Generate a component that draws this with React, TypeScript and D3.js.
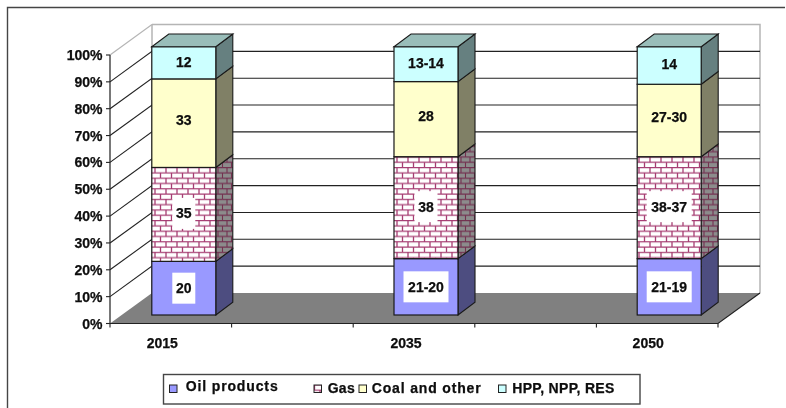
import React from "react";
import * as d3 from "d3";

const categories = ["2015", "", "2035", " ", "2050"];
const seriesNames = ["Oil products", "Gas", "Coal and other", "HPP, NPP, RES"];
const oil = [20, 21, 21];
const gas = [35, 38, 38];
const coal = [33, 28, 27];
const hpp = [12, 13, 14];
const labelsOil = ["20", "21-20", "21-19"];
const labelsGas = ["35", "38", "38-37"];
const labelsCoal = ["33", "28", "27-30"];
const labelsHpp = ["12", "13-14", "14"];
const ticks = [0, 10, 20, 30, 40, 50, 60, 70, 80, 90, 100];

const values = [oil, gas, coal, hpp];
const labels = [labelsOil, labelsGas, labelsCoal, labelsHpp];
const years = categories.filter(c => c.trim());
const front = ["#9999ff", "url(#brick)", "#ffffcc", "#ccffff"];
const side = ["#4d4d80", "url(#brickSide)", "#808066", "#668080"];
const top = "#99bdb9";
const font = "'Liberation Sans', Arial, sans-serif";

const y = d3.scaleLinear().domain([0, 100]).range([323.5, 55]);
const barY = d3.scaleLinear().domain([0, 100]).range([315, 46.7]);
const band = d3.scaleBand<string>().domain(categories).range([110, 718]);
const labelShift = [-8.5, -8, -9];
const barShift = [0, -1, -1];
const wallDx = 42, wallDy = -30.5, barW = 64, dDx = 17, dDy = -12.7, depthShift = 13;
const labelNudge = [0, -1, -3, -1];
const txt = "#0d0d0d";

export default function App() {
  const stacks = d3.stack<number>().keys(d3.range(4) as any).value((i: any, k: any) => values[k][i])(d3.range(3) as any);
  const tickXs = d3.range(6).map(i => 110 + i * band.step());
  return (
    <svg width={786} height={408} style={{ position: "absolute", left: 0, top: 0, background: "#fff" }} fontFamily={font} fontWeight="bold" fontSize={14}>
      <defs>
        <pattern id="brick" width={11} height={10.6} patternUnits="userSpaceOnUse" x={152} y={167}>
          <rect width={11} height={10.6} fill="#fff" />
          <path d="M0 .6H11M0 5.9H11M3 .6V5.9M8.5 5.9V10.6" stroke="#a63d72" strokeWidth={1.3} fill="none" />
        </pattern>
        <pattern id="brickSide" width={9} height={10.6} patternUnits="userSpaceOnUse" x={216} y={167}>
          <rect width={9} height={10.6} fill="#8c8c8c" />
          <path d="M0 .6H9M0 5.9H9M2 .6V5.9M6.5 5.9V10.6" stroke="#733050" strokeWidth={1.1} fill="none" />
        </pattern>
        <filter id="soft" x="-2%" y="-2%" width="104%" height="104%"><feGaussianBlur stdDeviation="0.35" /></filter>
      </defs>
      <g filter="url(#soft)">
        <path d="M7.5 408V7.5H785" fill="none" stroke="#444" strokeWidth={1.4} />
        <path d={`M${110 + wallDx} ${y(100) + wallDy}H760V${y(0) + wallDy}`} fill="none" stroke="#b5b5b5" strokeWidth={1.5} />
        <path d={`M${110 + wallDx} ${y(100) + wallDy}V${y(0) + wallDy}`} fill="none" stroke="#b5b5b5" strokeWidth={1.5} />
        <path d={`M110 ${y(100)}L${110 + wallDx} ${y(100) + wallDy}`} stroke="#b5b5b5" strokeWidth={1.2} />
        <path d={`M110 ${y(0)}L${110 + wallDx} ${y(0) + wallDy}H760L718 ${y(0)}Z`} fill="#808080" />
        {ticks.filter(t => t > 0 && t < 100).map(t => (
          <path key={t} d={`M110 ${y(t)}L${110 + wallDx} ${y(t) + wallDy}H760`} fill="none" stroke="#222" strokeWidth={1.1} />
        ))}
        <path d={`M110 ${y(100)}V${y(0)}H718L760 ${y(0) + wallDy}`} fill="none" stroke="#222" strokeWidth={1.2} />
        {ticks.map(t => (
          <g key={t}>
            <path d={`M106 ${y(t)}H110`} stroke="#222" strokeWidth={1.1} />
            <text x={102.5} y={y(t) + 5} textAnchor="end" fill={txt} stroke={txt} strokeWidth={0.25}>{t}%</text>
          </g>
        ))}
        {tickXs.map(x => <path key={x} d={`M${x} ${y(0)}V${y(0) + 4}`} stroke="#222" strokeWidth={1.1} />)}
        {years.map((c, i) => (
          <text key={c} x={(band(c) as number) + band.bandwidth() / 2 + labelShift[i]} y={347.5} textAnchor="middle" fill={txt} stroke={txt} strokeWidth={0.25}>{c}</text>
        ))}
        {years.map((c, i) => {
          const x0 = (band(c) as number) + (band.bandwidth() - barW) / 2 + depthShift + barShift[i], x1 = x0 + barW;
          return (
            <g key={c}>
              {stacks.map((s, k) => {
                const yb = barY(s[i][0]), yt = barY(s[i][1]);
                return (
                  <g key={k}>
                    <path d={`M${x1} ${yb}L${x1 + dDx} ${yb + dDy}V${yt + dDy}L${x1} ${yt}Z`} fill={side[k]} stroke="#1a1a1a" strokeWidth={1.1} />
                    <rect x={x0} y={yt} width={barW} height={yb - yt} fill={front[k]} stroke="#1a1a1a" strokeWidth={1.2} />
                  </g>
                );
              })}
              <path d={`M${x0} ${barY(100)}L${x0 + dDx} ${barY(100) + dDy}H${x1 + dDx}L${x1} ${barY(100)}Z`} fill={top} stroke="#1a1a1a" strokeWidth={1.1} />
              {stacks.map((s, k) => {
                const ym = (barY(s[i][0]) + barY(s[i][1])) / 2 + labelNudge[k];
                const t = labels[k][i];
                const w = t.length > 2 ? 45 : 23;
                return (
                  <g key={k}>
                    {k < 2 && <rect x={x0 + barW / 2 - w / 2} y={ym - 15.5} width={w} height={31} fill="#fff" />}
                    <text x={x0 + barW / 2} y={ym + 5} textAnchor="middle" fill={txt} stroke={txt} strokeWidth={0.25}>{t}</text>
                  </g>
                );
              })}
            </g>
          );
        })}
        <rect x={163.5} y={374.5} width={476.5} height={29.5} fill="#fff" stroke="#444" strokeWidth={1.4} />
        {seriesNames.map((n, i) => {
          const sx = [169.5, 314, 359, 498.5][i];
          const tx = [185.7, 327.7, 371.7, 512.3][i];
          const tw = [92, 27, 109, 102][i];
          const ty = i === 0 ? 390.5 : 393;
          return (
            <g key={n}>
              <rect x={sx} y={385} width={7.5} height={7.5} fill={front[i]} stroke="#222" />
              <text x={tx} y={ty} textLength={tw} lengthAdjust="spacing" fill={txt} stroke={txt} strokeWidth={0.25}>{n}</text>
            </g>
          );
        })}
      </g>
    </svg>
  );
}
